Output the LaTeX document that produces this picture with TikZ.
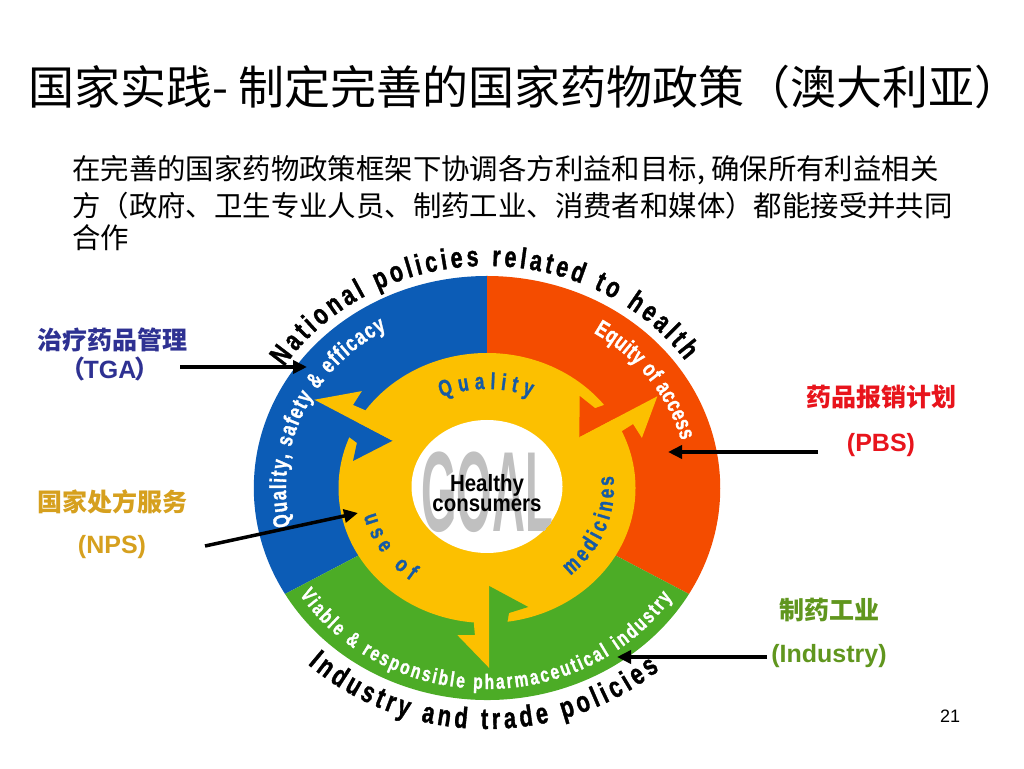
\documentclass[tikz,border=0pt]{standalone}
\usepackage{fontspec}
\setmainfont{Liberation Sans}
\newfontfamily\cjk{Noto Sans CJK SC}
\newfontfamily\arcfont[FakeStretch=0.74,FakeBold=1.2]{Liberation Sans}
\newfontfamily\goalfont[FakeStretch=0.40]{Liberation Sans}
\newfontfamily\hcfont[FakeStretch=0.87]{Liberation Sans}
\usetikzlibrary{decorations.text,arrows.meta}

\definecolor{cblue}{RGB}{12,92,182}
\definecolor{corange}{RGB}{244,76,0}
\definecolor{cgreen}{RGB}{76,172,38}
\definecolor{cyellow}{RGB}{252,192,0}
\definecolor{ctext}{RGB}{22,90,165}
\definecolor{cgrey}{RGB}{192,192,192}
\definecolor{ltga}{RGB}{46,49,146}
\definecolor{lnps}{RGB}{214,160,30}
\definecolor{lpbs}{RGB}{232,20,28}
\definecolor{lind}{RGB}{96,150,30}

\newcommand{\arctop}{\arcfont\bfseries\fontsize{29}{29}\selectfont}
\newcommand{\arcbot}{\arcfont\bfseries\fontsize{29.5}{29.5}\selectfont}
\newcommand{\arcmid}{\arcfont\bfseries\fontsize{23}{23}\selectfont}
\newcommand{\arcsmall}{\arcfont\bfseries\fontsize{21}{21}\selectfont}

\newcommand{\arrowpair}[2]{%
  \begin{scope}[rotate=#1]
    \fill[#2] (98,2) -- (119,37.5) -- (125,20) -- (134.5,18.5) -- (155,17) -- (180,2) -- cycle;
    \fill[cyellow] (180,2) -- (147,-27) -- (147,-11) -- (134.5,-12) -- (112,-8) -- (98,2) -- cycle;
  \end{scope}}

\tikzset{
  para/.style={anchor=base west, inner sep=0pt, font=\cjk\fontsize{28.4}{28.4}\selectfont},
  lab/.style={inner sep=0pt, font=\bfseries\fontsize{25}{25}\selectfont},
  arr/.style={line width=3.5pt, -{Triangle[length=14pt,width=13pt]}},
}

\begin{document}
\begin{tikzpicture}[x=1pt,y=1pt]
\useasboundingbox (0,0) rectangle (1024,768);
\fill[white] (0,0) rectangle (1024,768);

% title
\node[anchor=base west, inner sep=0pt] (title) at (28,663)
  {\cjk\fontsize{46}{46}\selectfont 国家实践- 制定完善的国家药物政策（澳大利亚）};

% paragraph
\node[para] (p1) at (72,588) {在完善的国家药物政策框架下协调各方利益和目标, 确保所有利益相关};
\node[para] (p2) at (72,551) {方（政府、卫生专业人员、制药工业、消费者和媒体）都能接受并共同};
\node[para] (p3) at (72,519) {合作};

% wheel
\begin{scope}[shift={(487,280)}, xscale=1.1]
  \fill[cblue] (0,0) -- (90:212) arc[start angle=90,end angle=210,radius=212] -- cycle;
  \fill[corange] (0,0) -- (-30:212) arc[start angle=-30,end angle=90,radius=212] -- cycle;
  \fill[cgreen] (0,0) -- (210:212) arc[start angle=210,end angle=330,radius=212] -- cycle;
  \fill[cyellow] (0,0) circle[radius=135];
  \arrowpair{150}{cblue}
  \arrowpair{30}{corange}
  \arrowpair{270}{cgreen}
\end{scope}
\fill[white] (487,281.5) ellipse[x radius=75.5, y radius=66.5];

% GOAL
\begin{scope}
  \clip (487,281.5) ellipse[x radius=75.5, y radius=66.5];
  \node[inner sep=0pt, text=cgrey] (goal) at (487,276)
    {\goalfont\bfseries\fontsize{114}{114}\selectfont GOAL};
\end{scope}
\node[inner sep=0pt, align=center, font=\hcfont\bfseries\fontsize{23.5}{20}\selectfont] (hc) at (487,275)
  {Healthy\\consumers};

% outer texts
\path[shift={(487,280)}, decorate, decoration={text along path, text align={fit to path}, text color=black,
  text={|\arctop|National policies related to health}}]
  (147:242 and 222) arc[start angle=147, end angle=35, x radius=242, y radius=222];
\path[shift={(487,280)}, decorate, decoration={text along path, text align={fit to path}, text color=black,
  text={|\arcbot|Industry and trade policies}}]
  (227:263 and 241) arc[start angle=227, end angle=311, x radius=263, y radius=241];

% ring texts
\path[shift={(487,280)}, decorate, decoration={text along path, text align={fit to path}, text color=white,
  text={|\arcmid|Quality, safety {\&} efficacy}}]
  (192:201 and 183) arc[start angle=192, end angle=120, x radius=201, y radius=183];
\path[shift={(487,280)}, decorate, decoration={text along path, text align={fit to path}, text color=white,
  text={|\arcmid|Equity of access}}]
  (58:201 and 183) arc[start angle=58, end angle=15, x radius=201, y radius=183];
\path[shift={(487,280)}, decorate, decoration={text along path, text align={fit to path}, text color=white,
  text={|\arcsmall|Viable {\&} responsible pharmaceutical industry}}]
  (212:221 and 201) arc[start angle=212, end angle=327, x radius=221, y radius=201];

% yellow ring texts
\path[shift={(487,280)}, decorate, decoration={text along path, text align={fit to path}, text color=ctext,
  text={|\arcmid|Quality}}]
  (114:112 and 99) arc[start angle=114, end angle=67, x radius=112, y radius=99];
\path[shift={(487,280)}, decorate, decoration={text along path, text align={fit to path}, text color=ctext,
  text={|\arcmid|use of}}]
  (194:127 and 116) arc[start angle=194, end angle=233, x radius=127, y radius=116];
\path[shift={(487,280)}, decorate, decoration={text along path, text align={fit to path}, text color=ctext,
  text={|\arcmid|medicines}}]
  (-49:127 and 116) arc[start angle=-49, end angle=6, x radius=127, y radius=116];

% labels
\node[lab, text=ltga] (tga1) at (112,428) {\cjk\bfseries 治疗药品管理};
\node[lab, text=ltga] (tga2) at (110,399) {{\cjk\bfseries （}\hspace{-2pt}TGA\hspace{-2pt}{\cjk\bfseries ）}};
\node[lab, text=lnps] (nps1) at (112,266) {\cjk\bfseries 国家处方服务};
\node[lab, text=lnps] (nps2) at (112,221) {(NPS)};
\node[lab, text=lpbs] (pbs1) at (881,371) {\cjk\bfseries 药品报销计划};
\node[lab, text=lpbs] (pbs2) at (881,323) {(PBS)};
\node[lab, text=lind] (ind1) at (829,158) {\cjk\bfseries 制药工业};
\node[lab, text=lind] (ind2) at (829,112) {(Industry)};
\node[inner sep=0pt, font=\fontsize{18}{18}\selectfont] (pg) at (950,52) {21};

% arrows
\coordinate (tgaS) at (180,401);
\coordinate (tgaE) at (307,401);
\coordinate (npsS) at (205,222);
\coordinate (npsE) at (358,255);
\coordinate (pbsS) at (818,316);
\coordinate (pbsE) at (668,316);
\coordinate (indS) at (767,111);
\coordinate (indE) at (617,111);
\draw[arr] (tgaS) -- (tgaE);
\draw[arr] (npsS) -- (npsE);
\draw[arr] (pbsS) -- (pbsE);
\draw[arr] (indS) -- (indE);
\end{tikzpicture}
\end{document}
